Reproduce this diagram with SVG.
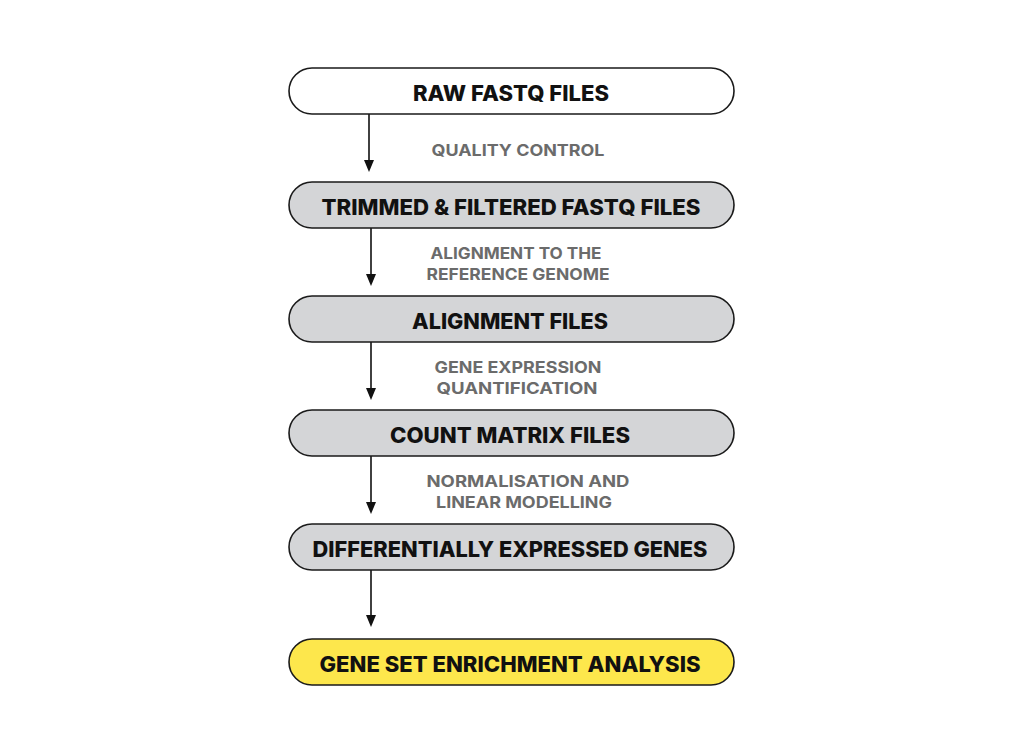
<svg xmlns="http://www.w3.org/2000/svg" width="1024" height="754" viewBox="0 0 1024 754">
<style>
.box{stroke:#1a1a1a;stroke-width:1.6}
.w{fill:#ffffff}.g{fill:#d4d5d7}.y{fill:#fde74c}
.t{font-family:Inter,"Open Sans","Liberation Sans",sans-serif;font-weight:800;font-size:21.5px;fill:#111111;text-anchor:middle}
.l{font-family:Inter,"Open Sans","Liberation Sans",sans-serif;font-weight:700;font-size:16px;fill:#6b6b6b;text-anchor:middle}
.c{stroke:#111111;stroke-width:1.6;fill:none}
.h{fill:#111111}
</style>
<rect width="1024" height="754" fill="#ffffff"/>
<g id="connectors">
<line class="c" x1="369" y1="114" x2="369" y2="160"/><path class="h" d="M364,160 L374,160 L369,172 Z"/>
<line class="c" x1="371" y1="228" x2="371" y2="274"/><path class="h" d="M366,274 L376,274 L371,286 Z"/>
<line class="c" x1="371" y1="342" x2="371" y2="388"/><path class="h" d="M366,388 L376,388 L371,400 Z"/>
<line class="c" x1="371" y1="456" x2="371" y2="502"/><path class="h" d="M366,502 L376,502 L371,514 Z"/>
<line class="c" x1="371" y1="570" x2="371" y2="615"/><path class="h" d="M366,615 L376,615 L371,627 Z"/>
</g>
<g id="labels">
<text class="l" x="518" y="156" textLength="173" lengthAdjust="spacingAndGlyphs">QUALITY CONTROL</text>
<text class="l" x="516" y="259" textLength="171" lengthAdjust="spacingAndGlyphs">ALIGNMENT TO THE</text>
<text class="l" x="518" y="280" textLength="183" lengthAdjust="spacingAndGlyphs">REFERENCE GENOME</text>
<text class="l" x="518" y="373" textLength="167" lengthAdjust="spacingAndGlyphs">GENE EXPRESSION</text>
<text class="l" x="517" y="394" textLength="161" lengthAdjust="spacingAndGlyphs">QUANTIFICATION</text>
<text class="l" x="528" y="487" textLength="203" lengthAdjust="spacingAndGlyphs">NORMALISATION AND</text>
<text class="l" x="524" y="508" textLength="176" lengthAdjust="spacingAndGlyphs">LINEAR MODELLING</text>
</g>
<g id="n1"><rect class="box w" x="289" y="68" width="445" height="46" rx="23"/><text class="t" x="511" y="101" textLength="196" lengthAdjust="spacingAndGlyphs">RAW FASTQ FILES</text></g>
<g id="n2"><rect class="box g" x="289" y="182" width="445" height="46" rx="23"/><text class="t" x="511" y="215" textLength="379" lengthAdjust="spacingAndGlyphs">TRIMMED &amp; FILTERED FASTQ FILES</text></g>
<g id="n3"><rect class="box g" x="289" y="296" width="445" height="46" rx="23"/><text class="t" x="510" y="329" textLength="196" lengthAdjust="spacingAndGlyphs">ALIGNMENT FILES</text></g>
<g id="n4"><rect class="box g" x="289" y="410" width="445" height="46" rx="23"/><text class="t" x="510" y="443" textLength="240" lengthAdjust="spacingAndGlyphs">COUNT MATRIX FILES</text></g>
<g id="n5"><rect class="box g" x="289" y="524" width="445" height="46" rx="23"/><text class="t" x="510" y="557" textLength="395" lengthAdjust="spacingAndGlyphs">DIFFERENTIALLY EXPRESSED GENES</text></g>
<g id="n6"><rect class="box y" x="289" y="639" width="445" height="46" rx="23"/><text class="t" x="510" y="672" textLength="381" lengthAdjust="spacingAndGlyphs">GENE SET ENRICHMENT ANALYSIS</text></g>
</svg>
